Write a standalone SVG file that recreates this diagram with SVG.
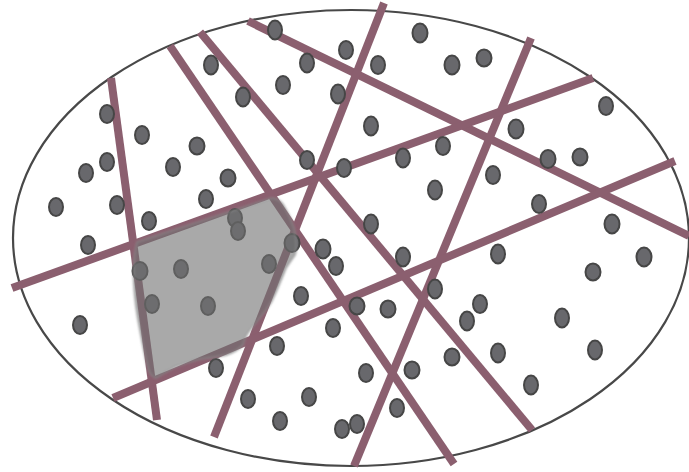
<svg xmlns="http://www.w3.org/2000/svg" width="689" height="472" viewBox="0 0 689 472">
<defs>
<style>
.dot{fill:#68686c;stroke:#464646;stroke-width:2}
.ln{stroke:#8b5f6f;stroke-width:8;fill:none;stroke-linecap:butt}
.frame{fill:#ffffff;stroke:#484848;stroke-width:2.2}
.blob{fill:#707072;fill-opacity:0.6;stroke:#8a8a8a;stroke-opacity:0.6;stroke-width:2}
</style>
<filter id="soft" x="-5%" y="-5%" width="110%" height="110%"><feGaussianBlur stdDeviation="0.8"/></filter>
</defs>
<rect width="689" height="472" fill="#ffffff"/>
<g id="boundary"><ellipse class="frame" cx="351" cy="238" rx="338" ry="228"/></g>
<g id="connectors">
<line class="ln" x1="111" y1="78" x2="157" y2="420"/>
<line class="ln" x1="170" y1="46" x2="454" y2="464"/>
<line class="ln" x1="200" y1="32" x2="532" y2="430"/>
<line class="ln" x1="248" y1="21" x2="689" y2="236"/>
<line class="ln" x1="384" y1="3" x2="214" y2="437"/>
<line class="ln" x1="531" y1="38" x2="354" y2="466"/>
<line class="ln" x1="12" y1="288" x2="593" y2="78"/>
<line class="ln" x1="113" y1="398" x2="675" y2="161"/>
</g>
<g id="dots">
<ellipse class="dot" cx="275" cy="30" rx="7" ry="9.5"/>
<ellipse class="dot" cx="420" cy="33" rx="7.5" ry="9.5"/>
<ellipse class="dot" cx="346" cy="50" rx="7" ry="9"/>
<ellipse class="dot" cx="307" cy="63" rx="7" ry="9.5"/>
<ellipse class="dot" cx="378" cy="65" rx="7" ry="9"/>
<ellipse class="dot" cx="452" cy="65" rx="7.5" ry="9.5"/>
<ellipse class="dot" cx="484" cy="58" rx="7.5" ry="8.5"/>
<ellipse class="dot" cx="211" cy="65" rx="7" ry="9.5"/>
<ellipse class="dot" cx="243" cy="97" rx="7" ry="9.5"/>
<ellipse class="dot" cx="283" cy="85" rx="7" ry="9"/>
<ellipse class="dot" cx="338" cy="94" rx="7" ry="9.5"/>
<ellipse class="dot" cx="107" cy="114" rx="7" ry="9"/>
<ellipse class="dot" cx="142" cy="135" rx="7" ry="9"/>
<ellipse class="dot" cx="197" cy="146" rx="7.5" ry="8.5"/>
<ellipse class="dot" cx="173" cy="167" rx="7" ry="9"/>
<ellipse class="dot" cx="371" cy="126" rx="7" ry="9.5"/>
<ellipse class="dot" cx="516" cy="129" rx="7.5" ry="9.5"/>
<ellipse class="dot" cx="606" cy="106" rx="7" ry="9"/>
<ellipse class="dot" cx="86" cy="173" rx="7" ry="9"/>
<ellipse class="dot" cx="107" cy="162" rx="7" ry="9"/>
<ellipse class="dot" cx="228" cy="178" rx="7.5" ry="8.5"/>
<ellipse class="dot" cx="307" cy="160" rx="7" ry="9"/>
<ellipse class="dot" cx="344" cy="168" rx="7" ry="9"/>
<ellipse class="dot" cx="403" cy="158" rx="7" ry="9.5"/>
<ellipse class="dot" cx="443" cy="146" rx="7" ry="9"/>
<ellipse class="dot" cx="548" cy="159" rx="7.5" ry="9"/>
<ellipse class="dot" cx="580" cy="157" rx="7.5" ry="8.5"/>
<ellipse class="dot" cx="56" cy="207" rx="7" ry="9"/>
<ellipse class="dot" cx="117" cy="205" rx="7" ry="9"/>
<ellipse class="dot" cx="149" cy="221" rx="7" ry="9"/>
<ellipse class="dot" cx="206" cy="199" rx="7" ry="9"/>
<ellipse class="dot" cx="235" cy="218" rx="7" ry="9"/>
<ellipse class="dot" cx="238" cy="231" rx="7" ry="9"/>
<ellipse class="dot" cx="435" cy="190" rx="7" ry="9.5"/>
<ellipse class="dot" cx="493" cy="175" rx="7" ry="9"/>
<ellipse class="dot" cx="539" cy="204" rx="7" ry="9"/>
<ellipse class="dot" cx="371" cy="224" rx="7" ry="9.5"/>
<ellipse class="dot" cx="612" cy="224" rx="7.5" ry="9.5"/>
<ellipse class="dot" cx="88" cy="245" rx="7" ry="9"/>
<ellipse class="dot" cx="323" cy="249" rx="7.5" ry="9.5"/>
<ellipse class="dot" cx="336" cy="266" rx="7" ry="9"/>
<ellipse class="dot" cx="403" cy="257" rx="7" ry="9.5"/>
<ellipse class="dot" cx="498" cy="254" rx="7" ry="9.5"/>
<ellipse class="dot" cx="644" cy="257" rx="7.5" ry="9.5"/>
<ellipse class="dot" cx="140" cy="271" rx="7.5" ry="9"/>
<ellipse class="dot" cx="181" cy="269" rx="7" ry="9"/>
<ellipse class="dot" cx="269" cy="264" rx="7" ry="9"/>
<ellipse class="dot" cx="292" cy="243" rx="7.5" ry="9"/>
<ellipse class="dot" cx="593" cy="272" rx="7.5" ry="8.5"/>
<ellipse class="dot" cx="152" cy="304" rx="7" ry="9"/>
<ellipse class="dot" cx="208" cy="306" rx="7" ry="9"/>
<ellipse class="dot" cx="301" cy="296" rx="7" ry="9"/>
<ellipse class="dot" cx="357" cy="306" rx="7.5" ry="8.5"/>
<ellipse class="dot" cx="388" cy="309" rx="7.5" ry="8.5"/>
<ellipse class="dot" cx="435" cy="289" rx="7" ry="9.5"/>
<ellipse class="dot" cx="480" cy="304" rx="7" ry="9"/>
<ellipse class="dot" cx="467" cy="321" rx="7" ry="9.5"/>
<ellipse class="dot" cx="562" cy="318" rx="7" ry="9.5"/>
<ellipse class="dot" cx="80" cy="325" rx="7" ry="9"/>
<ellipse class="dot" cx="333" cy="328" rx="7" ry="9"/>
<ellipse class="dot" cx="277" cy="346" rx="7" ry="9"/>
<ellipse class="dot" cx="452" cy="357" rx="7.5" ry="8.5"/>
<ellipse class="dot" cx="498" cy="353" rx="7" ry="9.5"/>
<ellipse class="dot" cx="595" cy="350" rx="7" ry="9.5"/>
<ellipse class="dot" cx="216" cy="368" rx="7" ry="9"/>
<ellipse class="dot" cx="366" cy="373" rx="7" ry="9"/>
<ellipse class="dot" cx="412" cy="370" rx="7.5" ry="8.5"/>
<ellipse class="dot" cx="531" cy="385" rx="7" ry="9.5"/>
<ellipse class="dot" cx="248" cy="399" rx="7" ry="9"/>
<ellipse class="dot" cx="309" cy="397" rx="7" ry="9"/>
<ellipse class="dot" cx="397" cy="408" rx="7" ry="9"/>
<ellipse class="dot" cx="280" cy="421" rx="7" ry="9"/>
<ellipse class="dot" cx="342" cy="429" rx="7" ry="9"/>
<ellipse class="dot" cx="357" cy="424" rx="7" ry="9"/>
</g>
<g id="region">
<path class="blob" filter="url(#soft)" d="M137,242 L272,198 Q281,199 285,208 Q291,218 294,228 Q298,245 295,255 Q290,262 286,268 L276,292 Q272,302 266,310 Q258,320 250,330 Q244,338 243,345 Q236,352 226,355 Q212,358 200,359 Q185,363 175,367 Q165,372 156,378 Q150,376 148,368 Q144,352 140,330 Q135,305 134,285 Q133,265 135,252 Z"/>
</g>
</svg>
